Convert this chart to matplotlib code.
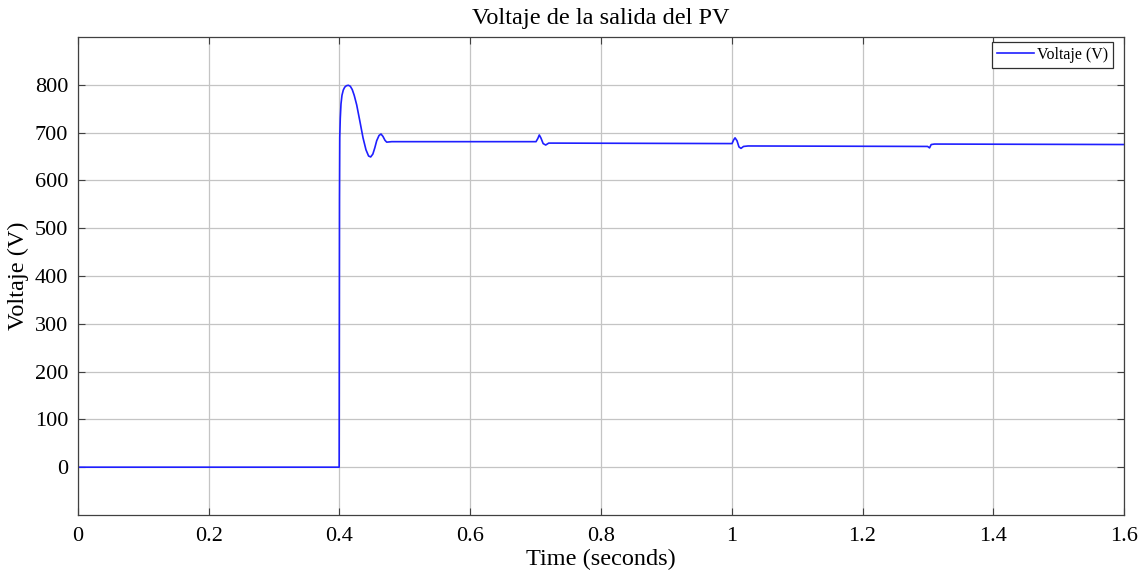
import numpy as np
import matplotlib.pyplot as plt
from matplotlib.ticker import FormatStrFormatter

plt.rcParams['font.family'] = ['Liberation Serif', 'DejaVu Serif']

# curve keypoints (time in s, voltage in V)
t = [0.0, 0.3995, 0.4, 0.4004, 0.4012, 0.4023, 0.4038, 0.4058, 0.408, 0.4105,
     0.4135, 0.4165, 0.4195, 0.4225, 0.4263, 0.431, 0.436, 0.4405, 0.4445,
     0.4477, 0.451, 0.454, 0.4569, 0.4605, 0.4635, 0.4665, 0.4695, 0.4722, 0.48,
     0.7006, 0.7035, 0.7056, 0.708, 0.7115, 0.7154, 0.72, 0.725,
     1.0004, 1.003, 1.005, 1.008, 1.011, 1.0141, 1.018, 1.025,
     1.2995, 1.3025, 1.305, 1.31, 1.6]
v = [0, 0, 560, 690, 730, 760, 778, 789, 795, 798,
     799, 797, 790, 778, 758, 725, 689, 664, 651,
     649, 655, 668, 683, 694, 697, 692, 684, 680, 681,
     681, 688, 695, 689, 677, 674, 678, 678,
     677, 685, 689, 683, 670, 667, 671, 672,
     671, 668, 675, 676, 675]
legend_label = 'Voltaje (V)'

fig = plt.figure(figsize=(11.45, 5.77), dpi=100)
ax = fig.add_axes([0.0681, 0.1075, 0.9136, 0.8284])
ax.plot(t, v, color='#1f1fff', lw=1.2, label=legend_label)

ax.set_xlim(0, 1.6)
ax.set_ylim(-100, 900)
ax.set_xticks(np.arange(0, 1.61, 0.2))
ax.set_yticks(np.arange(0, 801, 100))
ax.xaxis.set_major_formatter(FormatStrFormatter('%g'))
ax.grid(True, color='#c4c4c4', lw=0.9)
ax.tick_params(direction='in', length=5, labelsize=16, color='#404040',
               top=True, right=True, labeltop=False, labelright=False)
ax.tick_params(axis='x', pad=9)
ax.tick_params(axis='y', pad=7)
for s in ax.spines.values():
    s.set_color('#404040')
    s.set_linewidth(0.9)

ax.set_title('Voltaje de la salida del PV', fontsize=17.5, pad=9)
ax.set_xlabel('Time (seconds)', fontsize=17.5, labelpad=2)
ax.set_ylabel('Voltaje (V)', fontsize=17.5)
ax.yaxis.set_label_coords(-0.047, 0.5)

leg = ax.legend(loc='upper right', bbox_to_anchor=(0.9895, 0.9895),
                fontsize=11.5, fancybox=False, framealpha=1,
                edgecolor='#303030', handlelength=2.3, handletextpad=0.2,
                borderpad=0.3, borderaxespad=0)
leg.get_frame().set_linewidth(0.9)

fig.savefig('out.png', dpi=100)
